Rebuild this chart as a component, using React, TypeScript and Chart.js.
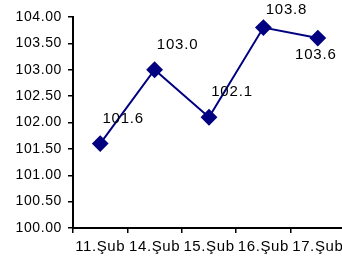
import React, { useEffect, useRef } from "react";
import { Chart, registerables } from "chart.js";

Chart.register(...registerables);

const categories = ["11.Şub", "14.Şub", "15.Şub", "16.Şub", "17.Şub"];
const values = [101.6, 103.0, 102.1, 103.8, 103.6];
const labelTexts = ["101.6", "103.0", "102.1", "103.8", "103.6"];
const yMin = 100;
const yMax = 104;
const yStep = 0.5;

const FONT = "'Liberation Sans', Arial, sans-serif";
const NAVY = "#000080";

const spacingPlugin = {
  id: "spacing",
  beforeDraw(chart: any) {
    try { (chart.ctx as any).letterSpacing = "0.6px"; } catch (e) {}
  },
};

const dataLabelPlugin = {
  id: "dataLabels",
  afterDatasetsDraw(chart: any) {
    const ctx = chart.ctx;
    const meta = chart.getDatasetMeta(0);
    ctx.save();
    ctx.font = `15px ${FONT}`;
    ctx.fillStyle = "#000";
    ctx.textAlign = "center";
    ctx.textBaseline = "middle";
    try { (ctx as any).letterSpacing = "0.8px"; } catch (e) {}
    const n = meta.data.length;
    meta.data.forEach((pt: any, i: number) => {
      let x = pt.x;
      let y = pt.y;
      if (i === n - 1) {
        x += -2;
        y += 17;
      } else {
        x += 23;
        y -= 25;
      }
      y = Math.max(y, 10);
      ctx.fillText(labelTexts[i], x, y);
    });
    ctx.restore();
  },
};

export default function App() {
  const ref = useRef<HTMLCanvasElement>(null);
  useEffect(() => {
    document.body.style.margin = "0";
    document.body.style.overflow = "hidden";
    const chart = new Chart(ref.current!, {
      type: "line",
      data: {
        labels: categories,
        datasets: [
          {
            data: values,
            borderColor: NAVY,
            backgroundColor: NAVY,
            borderWidth: 2,
            pointStyle: "rectRot",
            pointRadius: 7,
            pointHoverRadius: 7,
            pointBackgroundColor: NAVY,
            pointBorderColor: NAVY,
            tension: 0,
          },
        ],
      },
      options: {
        animation: false,
        responsive: false,
        maintainAspectRatio: false,
        layout: { padding: { top: 17, right: 0, bottom: 0, left: 0 } },
        plugins: { legend: { display: false }, tooltip: { enabled: false } },
        scales: {
          x: {
            offset: true,
            grid: {
              offset: true,
              drawOnChartArea: false,
              drawTicks: true,
              tickLength: 5,
              color: "#000",
              lineWidth: 1.5,
            },
            border: { display: true, color: "#000", width: 2 },
            ticks: {
              color: "#000",
              font: { family: FONT, size: 15 },
              padding: 5,
              maxRotation: 0,
              autoSkip: false,
            },
            afterFit: (scale: any) => {
              scale.height = 31;
              scale.paddingLeft = 0;
              scale.paddingRight = 0;
            },
          },
          y: {
            min: yMin,
            max: yMax,
            grid: {
              drawOnChartArea: false,
              drawTicks: true,
              tickLength: 5,
              color: "#000",
              lineWidth: 1.5,
            },
            border: { display: true, color: "#000", width: 2 },
            ticks: {
              stepSize: yStep,
              color: "#000",
              font: { family: FONT, size: 14 },
              padding: 6,
              callback: (v: any) => Number(v).toFixed(2),
            },
            afterFit: (scale: any) => {
              scale.width = 73;
              scale.paddingTop = 0;
              scale.paddingBottom = 0;
            },
          },
        },
      },
      plugins: [spacingPlugin, dataLabelPlugin],
    });
    return () => chart.destroy();
  }, []);
  return (
    <div style={{ width: 342, height: 259, overflow: "hidden" }}>
      <canvas ref={ref} width={354} height={259} style={{ width: 354, height: 259, display: "block" }} />
    </div>
  );
}
